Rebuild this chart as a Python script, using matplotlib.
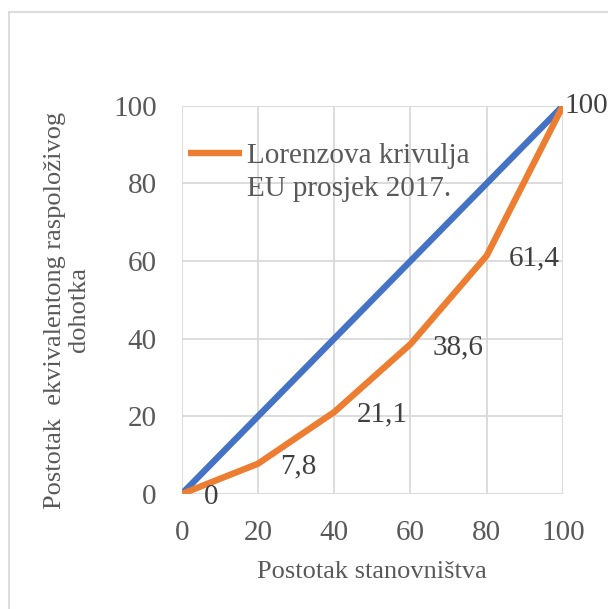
import matplotlib
matplotlib.use("Agg")
import matplotlib.pyplot as plt
from matplotlib.lines import Line2D

population = [0, 20, 40, 60, 80, 100]
lorenz = [0, 7.8, 21.1, 38.6, 61.4, 100]
lorenz_labels = ["0", "7,8", "21,1", "38,6", "61,4", "100"]
equality_x = [0, 100]
equality_y = [0, 100]
ticks = [0, 20, 40, 60, 80, 100]
legend_lines = ["Lorenzova krivulja", "EU prosjek 2017."]

plt.rcParams['font.family'] = ['Liberation Serif', 'DejaVu Serif']
txt = '#595959'
lab = '#404040'
grid = '#d9d9d9'
orange = '#ed7d31'
blue = '#4472c4'

fig = plt.figure(figsize=(6.08, 6.09), dpi=100)
W, H = 608, 609
ax = fig.add_axes([181.7 / W, 1 - 494 / H, (563 - 181.7) / W, (494 - 105.7) / H])

ax.plot(equality_x, equality_y, color=blue, lw=4.6, solid_capstyle='butt', zorder=3)
curve, = ax.plot(population, lorenz, color=orange, lw=4.6, solid_capstyle='butt',
                 solid_joinstyle='miter', zorder=4)

for x, y, s in zip(population, lorenz, lorenz_labels):
    dx = 1.0 if x == max(population) else 16
    dy = 0 if x == max(population) else -2
    ax.annotate(s, (x, y), xytext=(dx, dy), textcoords='offset points',
                ha='left', va='center', fontsize=21, color=lab, zorder=5,
                annotation_clip=False)

ax.set_xlim(0, 100)
ax.set_ylim(0, 100)
ax.set_xticks(ticks)
ax.set_yticks(ticks)
ax.grid(True, color=grid, lw=1.3)
ax.set_axisbelow(True)
for sp in ax.spines.values():
    sp.set_visible(False)
ax.tick_params(length=0, labelsize=21, labelcolor=txt)
ax.tick_params(axis='x', pad=19)
ax.tick_params(axis='y', pad=18)

ax.set_xlabel('Postotak stanovništva', fontsize=19, color=txt)
ax.xaxis.label.set_va('center')
ax.xaxis.set_label_coords(0.5, -0.2)
ax.set_ylabel('Postotak  ekvivalentong raspoloživog\ndohotka', fontsize=19,
              color=txt, linespacing=1.15)
ax.yaxis.label.set_va('center')
ax.yaxis.set_label_coords(-0.301, 0.474)

blank = Line2D([], [], color='none')
leg = ax.legend([curve, blank], legend_lines, loc='upper left',
                bbox_to_anchor=(0.0165, 0.905), frameon=False, fontsize=21,
                handlelength=1.85, handletextpad=0.17, borderaxespad=0,
                borderpad=0, labelspacing=0.22)
for t in leg.get_texts():
    t.set_color(txt)

# outer frame (left and top edge visible)
fig.add_artist(Line2D([8.5 / W, 8.5 / W], [0, 1 - 12 / H], transform=fig.transFigure,
                      color=grid, lw=1.3))
fig.add_artist(Line2D([8.5 / W, 1], [1 - 12 / H, 1 - 12 / H], transform=fig.transFigure,
                      color=grid, lw=1.3))

fig.savefig('out.png', dpi=100)
